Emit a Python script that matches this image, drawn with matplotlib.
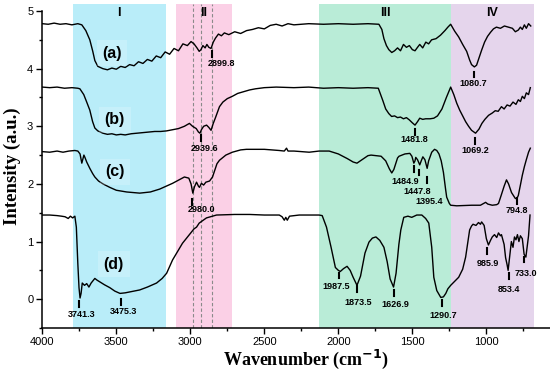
import matplotlib
matplotlib.use("Agg")
import matplotlib.pyplot as plt
from matplotlib.ticker import MultipleLocator

# ---- spectra (wavenumber, intensity) ----
wn_a = [4000, 3960, 3920, 3880, 3840, 3800, 3760, 3733, 3706, 3679, 3659, 3645, 3625, 3591,
        3560, 3530, 3500, 3470, 3440, 3410, 3380, 3350, 3320, 3290, 3260, 3230, 3200, 3170,
        3140, 3110, 3080, 3050, 3020, 2995, 2975, 2955, 2940, 2928, 2915, 2900, 2888, 2875,
        2860, 2845, 2830, 2810, 2790, 2770, 2740, 2700, 2660, 2620, 2580, 2540, 2500, 2460,
        2420, 2380, 2340, 2300, 2200, 2100, 2000, 1900, 1800, 1726, 1706, 1692, 1675, 1659,
        1639, 1620, 1600, 1580, 1560, 1540, 1520, 1500, 1482, 1465, 1450, 1430, 1409, 1390,
        1370, 1340, 1310, 1280, 1260, 1241, 1214, 1187, 1160, 1133, 1113, 1100, 1081, 1066,
        1053, 1032, 1012, 992, 972, 952, 932, 905, 878, 851, 824, 804, 784, 770, 757, 743,
        730, 715, 700]
int_a = [4.78, 4.77, 4.79, 4.77, 4.78, 4.76, 4.78, 4.76, 4.66, 4.50, 4.30, 4.14, 4.04, 4.00,
         3.98, 4.01, 3.99, 4.04, 4.02, 4.07, 4.05, 4.12, 4.09, 4.16, 4.13, 4.22, 4.19, 4.29,
         4.25, 4.35, 4.31, 4.43, 4.40, 4.47, 4.43, 4.36, 4.30, 4.33, 4.40, 4.36, 4.42, 4.37,
         4.35, 4.46, 4.53, 4.60, 4.57, 4.62, 4.59, 4.64, 4.61, 4.66, 4.68, 4.71, 4.69, 4.75,
         4.77, 4.74, 4.78, 4.76, 4.78, 4.77, 4.78, 4.77, 4.78, 4.77, 4.68, 4.52, 4.40, 4.33,
         4.28, 4.31, 4.36, 4.31, 4.42, 4.37, 4.40, 4.33, 4.31, 4.37, 4.42, 4.36, 4.46, 4.43,
         4.50, 4.52, 4.58, 4.66, 4.72, 4.77, 4.65, 4.55, 4.42, 4.30, 4.15, 4.07, 4.03, 4.06,
         4.16, 4.32, 4.46, 4.56, 4.63, 4.69, 4.72, 4.70, 4.74, 4.72, 4.70, 4.64, 4.67, 4.72,
         4.68, 4.76, 4.70, 4.78, 4.74]

wn_b = [4000, 3950, 3900, 3850, 3800, 3760, 3746, 3720, 3700, 3679, 3660, 3645, 3625, 3591,
        3560, 3530, 3500, 3470, 3440, 3400, 3360, 3320, 3280, 3240, 3200, 3160, 3120, 3080,
        3040, 3006, 2985, 2960, 2945, 2935, 2925, 2910, 2890, 2875, 2860, 2845, 2830, 2803,
        2780, 2750, 2716, 2680, 2640, 2600, 2560, 2500, 2420, 2300, 2200, 2100, 2000, 1900,
        1800, 1730, 1700, 1680, 1659, 1640, 1620, 1600, 1580, 1560, 1540, 1520, 1500, 1482,
        1465, 1450, 1430, 1410, 1380, 1355, 1330, 1300, 1270, 1241, 1220, 1200, 1180, 1160,
        1140, 1120, 1100, 1073, 1050, 1030, 1010, 985, 960, 940, 920, 898, 880, 860, 840,
        820, 800, 784, 770, 757, 743, 730, 715, 703]
int_b = [3.68, 3.67, 3.68, 3.66, 3.67, 3.66, 3.65, 3.55, 3.42, 3.28, 3.08, 2.97, 2.92, 2.88,
         2.86, 2.87, 2.85, 2.86, 2.85, 2.87, 2.88, 2.89, 2.90, 2.91, 2.91, 2.92, 2.94, 2.96,
         3.00, 3.05, 3.00, 2.96, 2.90, 2.88, 2.94, 3.00, 3.02, 2.98, 2.93, 3.05, 3.15, 3.34,
         3.42, 3.48, 3.52, 3.57, 3.60, 3.63, 3.65, 3.67, 3.68, 3.67, 3.68, 3.66, 3.67, 3.66,
         3.67, 3.66, 3.45, 3.30, 3.22, 3.17, 3.18, 3.15, 3.16, 3.13, 3.15, 3.11, 3.06, 3.02,
         3.08, 3.14, 3.12, 3.13, 3.13, 3.14, 3.18, 3.30, 3.50, 3.68, 3.55, 3.40, 3.28, 3.18,
         3.08, 3.00, 2.93, 2.88, 2.95, 3.05, 3.12, 3.19, 3.23, 3.27, 3.26, 3.34, 3.30, 3.37,
         3.35, 3.42, 3.38, 3.46, 3.43, 3.52, 3.48, 3.58, 3.55, 3.67]

wn_c = [4000, 3950, 3900, 3860, 3820, 3780, 3760, 3745, 3733, 3725, 3719, 3712, 3700, 3679,
        3660, 3645, 3620, 3590, 3544, 3500, 3430, 3342, 3270, 3207, 3120, 3040, 3010, 2995,
        2983, 2972, 2958, 2945, 2938, 2925, 2910, 2895, 2870, 2850, 2820, 2803, 2760, 2716,
        2660, 2621, 2500, 2400, 2365, 2350, 2340, 2300, 2197, 2130, 2062, 2000, 1940, 1900,
        1874, 1840, 1800, 1779, 1711, 1680, 1655, 1639, 1625, 1600, 1590, 1550, 1517, 1503,
        1490, 1482, 1477, 1465, 1450, 1440, 1429, 1415, 1400, 1390, 1369, 1350, 1335, 1320,
        1305, 1290, 1275, 1268, 1250, 1241, 1200, 1100, 1040, 1005, 990, 960, 930, 918, 900,
        880, 864, 850, 830, 805, 795, 784, 770, 757, 743, 730, 715, 703]
int_c = [2.56, 2.55, 2.57, 2.55, 2.57, 2.58, 2.57, 2.52, 2.36, 2.44, 2.50, 2.46, 2.38, 2.27,
         2.18, 2.12, 2.05, 2.00, 1.94, 1.89, 1.86, 1.84, 1.86, 1.91, 2.01, 2.12, 2.10, 2.00,
         1.84, 1.95, 2.03, 1.96, 1.94, 2.01, 1.98, 2.03, 2.05, 2.12, 2.35, 2.41, 2.50, 2.55,
         2.59, 2.60, 2.60, 2.58, 2.57, 2.62, 2.57, 2.57, 2.55, 2.57, 2.57, 2.52, 2.44, 2.38,
         2.36, 2.42, 2.49, 2.50, 2.48, 2.40, 2.26, 2.19, 2.25, 2.45, 2.48, 2.52, 2.53, 2.48,
         2.36, 2.40, 2.46, 2.42, 2.33, 2.40, 2.47, 2.42, 2.27, 2.40, 2.55, 2.60, 2.58, 2.52,
         2.40, 2.20, 1.90, 1.77, 1.66, 1.63, 1.62, 1.63, 1.63, 1.68, 1.65, 1.63, 1.64, 1.66,
         1.80, 1.96, 2.07, 2.00, 1.85, 1.75, 1.74, 1.80, 1.98, 2.15, 2.30, 2.42, 2.55, 2.62]

wn_d = [4000, 3950, 3900, 3870, 3846, 3825, 3810, 3795, 3780, 3770, 3760, 3752, 3745, 3738,
        3730, 3715, 3700, 3685, 3670, 3645, 3630, 3611, 3580, 3544, 3510, 3475, 3440, 3400,
        3342, 3290, 3228, 3190, 3160, 3120, 3053, 2993, 2975, 2958, 2940, 2891, 2823, 2700,
        2600, 2500, 2399, 2380, 2365, 2355, 2345, 2330, 2264, 2197, 2130, 2109, 2080, 2049,
        2020, 2000, 1987, 1965, 1941, 1920, 1900, 1874, 1850, 1820, 1793, 1770, 1746, 1720,
        1692, 1670, 1650, 1627, 1610, 1591, 1578, 1558, 1530, 1504, 1470, 1436, 1410, 1389,
        1369, 1355, 1335, 1308, 1290, 1274, 1260, 1241, 1210, 1187, 1160, 1140, 1113, 1100,
        1090, 1070, 1053, 1040, 1032, 1015, 1000, 986, 972, 960, 945, 930, 918, 905, 898,
        880, 870, 860, 853, 840, 831, 820, 810, 800, 790, 780, 770, 757, 745, 733, 725, 715,
        705]
int_d = [1.46, 1.46, 1.45, 1.44, 1.43, 1.40, 1.44, 1.41, 1.44, 1.25, 0.62, 0.20, 0.02, 0.10,
         0.28, 0.24, 0.27, 0.21, 0.28, 0.36, 0.33, 0.30, 0.25, 0.20, 0.14, 0.10, 0.11, 0.13,
         0.16, 0.21, 0.28, 0.36, 0.45, 0.68, 0.97, 1.16, 1.22, 1.25, 1.32, 1.41, 1.46, 1.47,
         1.47, 1.46, 1.46, 1.43, 1.37, 1.42, 1.37, 1.44, 1.46, 1.46, 1.46, 1.45, 1.25, 0.90,
         0.55, 0.50, 0.48, 0.53, 0.57, 0.50, 0.38, 0.24, 0.40, 0.80, 0.99, 1.06, 1.08, 1.02,
         0.90, 0.65, 0.35, 0.21, 0.45, 0.95, 1.20, 1.42, 1.44, 1.42, 1.46, 1.46, 1.40, 1.32,
         0.90, 0.38, 0.15, 0.03, 0.04, 0.10, 0.18, 0.24, 0.32, 0.38, 0.52, 0.73, 1.20, 1.27,
         1.30, 1.28, 1.33, 1.30, 1.34, 1.28, 1.05, 0.94, 1.02, 1.08, 1.12, 1.07, 1.15, 1.10,
         1.12, 0.95, 0.72, 0.60, 0.50, 0.80, 1.00, 0.90, 1.08, 1.03, 1.12, 1.00, 1.10, 1.05,
         0.78, 0.73, 0.90, 1.10, 1.46]

# shaded band edges (cm-1) and their roman labels
bands = [(3795, 3165), (3100, 2715), (2130, 1240), (1240, 680)]
band_names = ["I", "II", "III", "IV"]
band_colors = ["#b9edf9", "#fbd0e6", "#b9ecd7", "#e5d5ec"]
dash_wn = [2983, 2928, 2852]

# peak labels: text, tick x, tick top y, text x, text y
peaks = [
    ("2899.8", 2855, 4.31, 2792, 4.09),
    ("1080.7", 1086, 3.95, 1086, 3.74),
    ("2939.6", 2926, 2.85, 2904, 2.61),
    ("1481.8", 1485, 2.95, 1490, 2.77),
    ("1069.2", 1074, 2.80, 1074, 2.58),
    ("2980.0", 2987, 1.74, 2926, 1.55),
    ("1484.9", 1490, 2.31, 1545, 2.04),
    ("1447.8", 1452, 2.25, 1468, 1.87),
    ("1395.4", 1398, 2.12, 1389, 1.70),
    ("794.8", 792, 1.76, 792, 1.53),
    ("3741.3", 3751, -0.03, 3735, -0.26),
    ("3475.3", 3470, 0.00, 3452, -0.22),
    ("1987.5", 1995, 0.46, 2017, 0.22),
    ("1873.5", 1871, 0.23, 1865, -0.05),
    ("1626.9", 1625, 0.16, 1613, -0.10),
    ("1290.7", 1299, -0.01, 1288, -0.28),
    ("985.9", 996, 0.88, 992, 0.62),
    ("853.4", 850, 0.45, 850, 0.16),
    ("733.0", 743, 0.74, 734, 0.44),
]
curve_tags = [("(a)", 3530, 4.27), ("(b)", 3510, 3.11), ("(c)", 3510, 2.21), ("(d)", 3517, 0.61)]

fig = plt.figure(figsize=(5.5, 3.72), dpi=100)
ax = fig.add_axes([0.0769, 0.1183, 0.9231, 0.8707])
ymax = 5.12
ax.set_xlim(4000, 570)
ax.set_ylim(-0.5, ymax)

for (x0, x1), c in zip(bands, band_colors):
    ax.axvspan(x0, x1, color=c, lw=0, zorder=0)
for (x0, x1), name in zip(bands, band_names):
    ax.text((x0 + x1) / 2, 4.97, name, ha="center", va="center", fontsize=9,
            fontweight="bold", family="Liberation Sans")
for x in dash_wn:
    ax.axvline(x, color="#8a8a8a", lw=0.8, ls=(0, (3, 2)), zorder=1)

for wn, yy in ((wn_a, int_a), (wn_b, int_b), (wn_c, int_c), (wn_d, int_d)):
    ax.plot(wn, yy, color="black", lw=1.0, zorder=3)

for lab, tx, ty, lx, ly in peaks:
    ax.plot([tx, tx], [ty - 0.1, ty], color="black", lw=1.5, zorder=4)
    ax.text(lx, ly, lab, ha="center", va="center", fontsize=6.5, fontweight="bold",
            family="Liberation Sans", zorder=4)

for lab, x, y in curve_tags:
    ax.text(x, y, lab, ha="center", va="center", fontsize=11.5, fontweight="bold",
            family="Liberation Sans", zorder=4,
            bbox=dict(boxstyle="square,pad=0.35", fc="white", ec="none", alpha=0.2))

ax.xaxis.set_major_locator(MultipleLocator(500))
ax.xaxis.set_minor_locator(MultipleLocator(250))
ax.yaxis.set_major_locator(MultipleLocator(1))
ax.yaxis.set_minor_locator(MultipleLocator(0.5))
ax.set_yticks([0, 1, 2, 3, 4, 5])
ax.tick_params(which="major", direction="out", length=4.5, width=1.0, labelsize=8, pad=2)
ax.tick_params(which="minor", direction="out", length=2.5, width=1.0)
for t in ax.get_xticklabels() + ax.get_yticklabels():
    t.set_family("Liberation Sans")

ax.spines["top"].set_visible(False)
ax.spines["right"].set_visible(False)
ax.spines["left"].set_bounds(-0.5, 5)
for s in ("left", "bottom"):
    ax.spines[s].set_linewidth(1.1)

ax.set_xlabel("Wavenumber (cm$^{\\mathbf{-1}}$)", fontsize=13, fontweight="bold",
              family="Liberation Serif")
ax.set_ylabel("Intensity (a.u.)", fontsize=13.5, fontweight="bold", family="Liberation Serif")
ax.xaxis.set_label_coords(0.52, -0.062)
ax.yaxis.set_label_coords(-0.042, 0.5)

fig.savefig("out.png", dpi=100)
